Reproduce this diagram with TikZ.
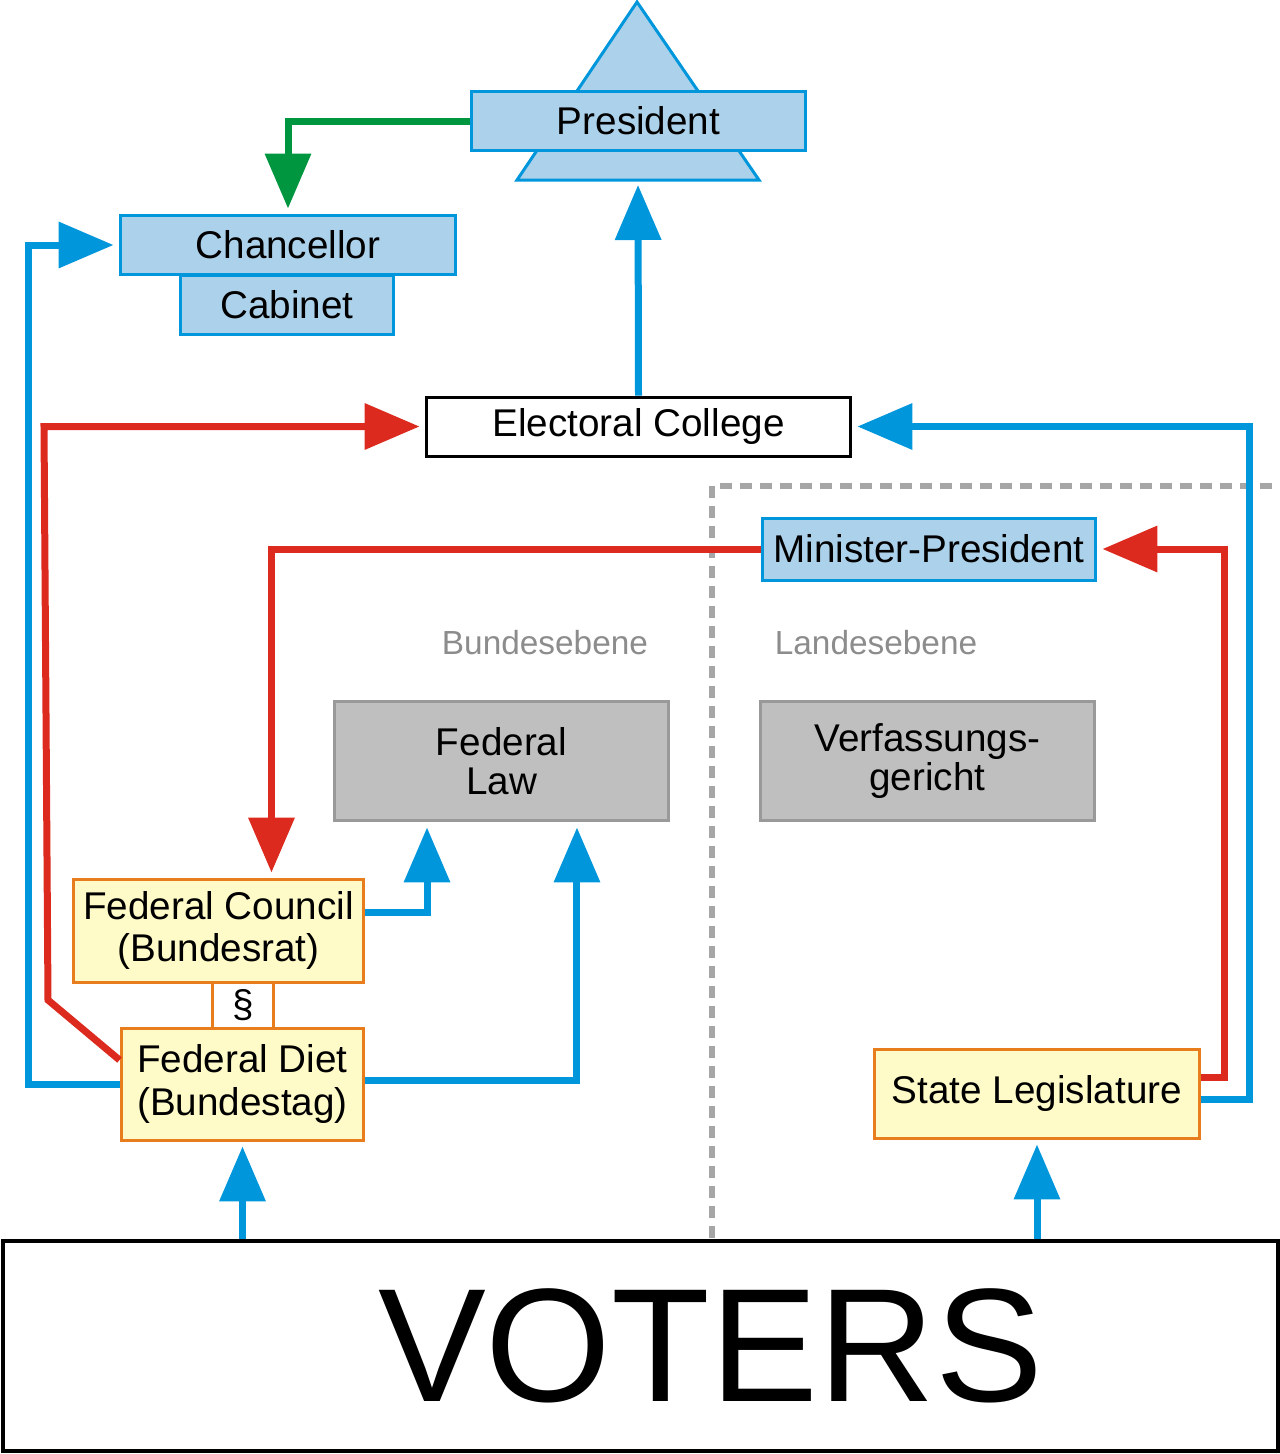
\documentclass[tikz,border=0pt]{standalone}
\usepackage{fontspec}
\setmainfont{Liberation Sans}
\usetikzlibrary{arrows.meta,positioning}
\definecolor{bblue}{RGB}{0,150,220}
\definecolor{lblue}{RGB}{172,209,234}
\definecolor{rred}{RGB}{220,42,30}
\definecolor{ggreen}{RGB}{0,150,64}
\definecolor{oorange}{RGB}{232,125,30}
\definecolor{lyellow}{RGB}{255,251,200}
\tikzset{
  office/.style={draw=bblue, fill=lblue, line width=0.06cm, inner sep=0pt, font=\fontsize{22}{24}\selectfont},
  parl/.style={draw=oorange, fill=lyellow, line width=0.06cm, inner sep=0pt, align=center, font=\fontsize{22}{24}\selectfont},
  court/.style={draw=black!40, fill=black!25, line width=0.06cm, inner sep=0pt, align=center, font=\fontsize{22}{22}\selectfont},
  level/.style={text=black!45, font=\fontsize{19}{20}\selectfont},
  link/.style={line width=0.14cm, -{Triangle[length=1.1cm,width=0.9cm]}, shorten >=0.1cm},
}
\begin{document}
\begin{tikzpicture}[x=0.02cm,y=-0.02cm]
  \useasboundingbox (0,0) rectangle (1280,1454);
  % president with triangle
  \draw[draw=bblue, fill=lblue, line width=0.06cm] (517,180) -- (759,180) -- (637,2) -- cycle;
  \coordinate (tribase) at (638,180);
  \node[office, minimum width=6.7cm, minimum height=1.2cm] (pres) at (638.5,121) {President};
  \node[office, minimum width=6.72cm, minimum height=1.2cm] (chanc) at (288,245) {Chancellor};
  \node[office, minimum width=4.28cm, minimum height=1.2cm] (cab) at (287,305) {Cabinet};
  \node[draw, fill=white, line width=0.06cm, inner sep=0pt, minimum width=8.5cm, minimum height=1.18cm, font=\fontsize{22}{24}\selectfont] (elect) at (638.5,426.5) {Electoral College};
  \node[office, minimum width=6.68cm, minimum height=1.24cm] (minpres) at (929,549) {Minister-President};

  % levels
  \draw[black!35, line width=0.12cm, dash pattern=on 0.24cm off 0.16cm] (712,1238) -- (712,486) -- (1280,486);
  \node[level] (bund) at (545,643) {Bundesebene};
  \node[level] (land) at (876,643) {Landesebene};

  \node[court, minimum width=6.7cm, minimum height=2.4cm] (law) at (501.5,761) {Federal\\Law};
  \node[court, minimum width=6.7cm, minimum height=2.4cm] (verf) at (927.5,761) {Verfassungs-\\gericht};

  \node[parl, minimum width=5.82cm, minimum height=2.06cm] (council) at (218.5,930.5) {Federal Council\\(Bundesrat)};
  \node[parl, minimum width=1.24cm, minimum height=0.92cm, fill=white] (para) at (243,1005) {\S};
  \node[parl, minimum width=4.86cm, minimum height=2.24cm] (diet) at (242.5,1084) {Federal Diet\\(Bundestag)};
  \node[parl, minimum width=6.52cm, minimum height=1.78cm] (state) at (1037,1093.5) {State Legislature};

  \node[draw, fill=white, line width=0.08cm, inner sep=0pt, minimum width=25.5cm, minimum height=4.2cm, font=\fontsize{92}{92}\selectfont] (voters) at (640.5,1346) {\hspace*{2.8cm}VOTERS};

  % connectors
  \draw[link, ggreen] (pres.west) -| (chanc.north);
  \draw[link, bblue] (elect.north) -- (tribase);
  \draw[link, bblue] (diet.west) -- ++(-91,0) |- (chanc.west);
  \draw[link, rred] ([yshift=0.48cm]diet.west) -- (48,1000) -- (44,426.5) -- (elect.west);
  \draw[link, bblue] ([yshift=-0.12cm]state.east) -- ++(48,0) |- (elect.east);
  \draw[link, rred] ([yshift=0.32cm]state.east) -- ++(23,0) |- (minpres.east);
  \draw[link, rred] (minpres.west) -| ([xshift=1.06cm]council.north);
  \draw[link, bblue] ([yshift=0.36cm]council.east) -| ([xshift=-1.49cm]law.south);
  \draw[link, bblue] ([yshift=0.08cm]diet.east) -| ([xshift=1.51cm]law.south);
  \draw[link, bblue] (voters.north -| diet.south) -- (diet.south);
  \draw[link, bblue] (voters.north -| state.south) -- (state.south);
\end{tikzpicture}
\end{document}
